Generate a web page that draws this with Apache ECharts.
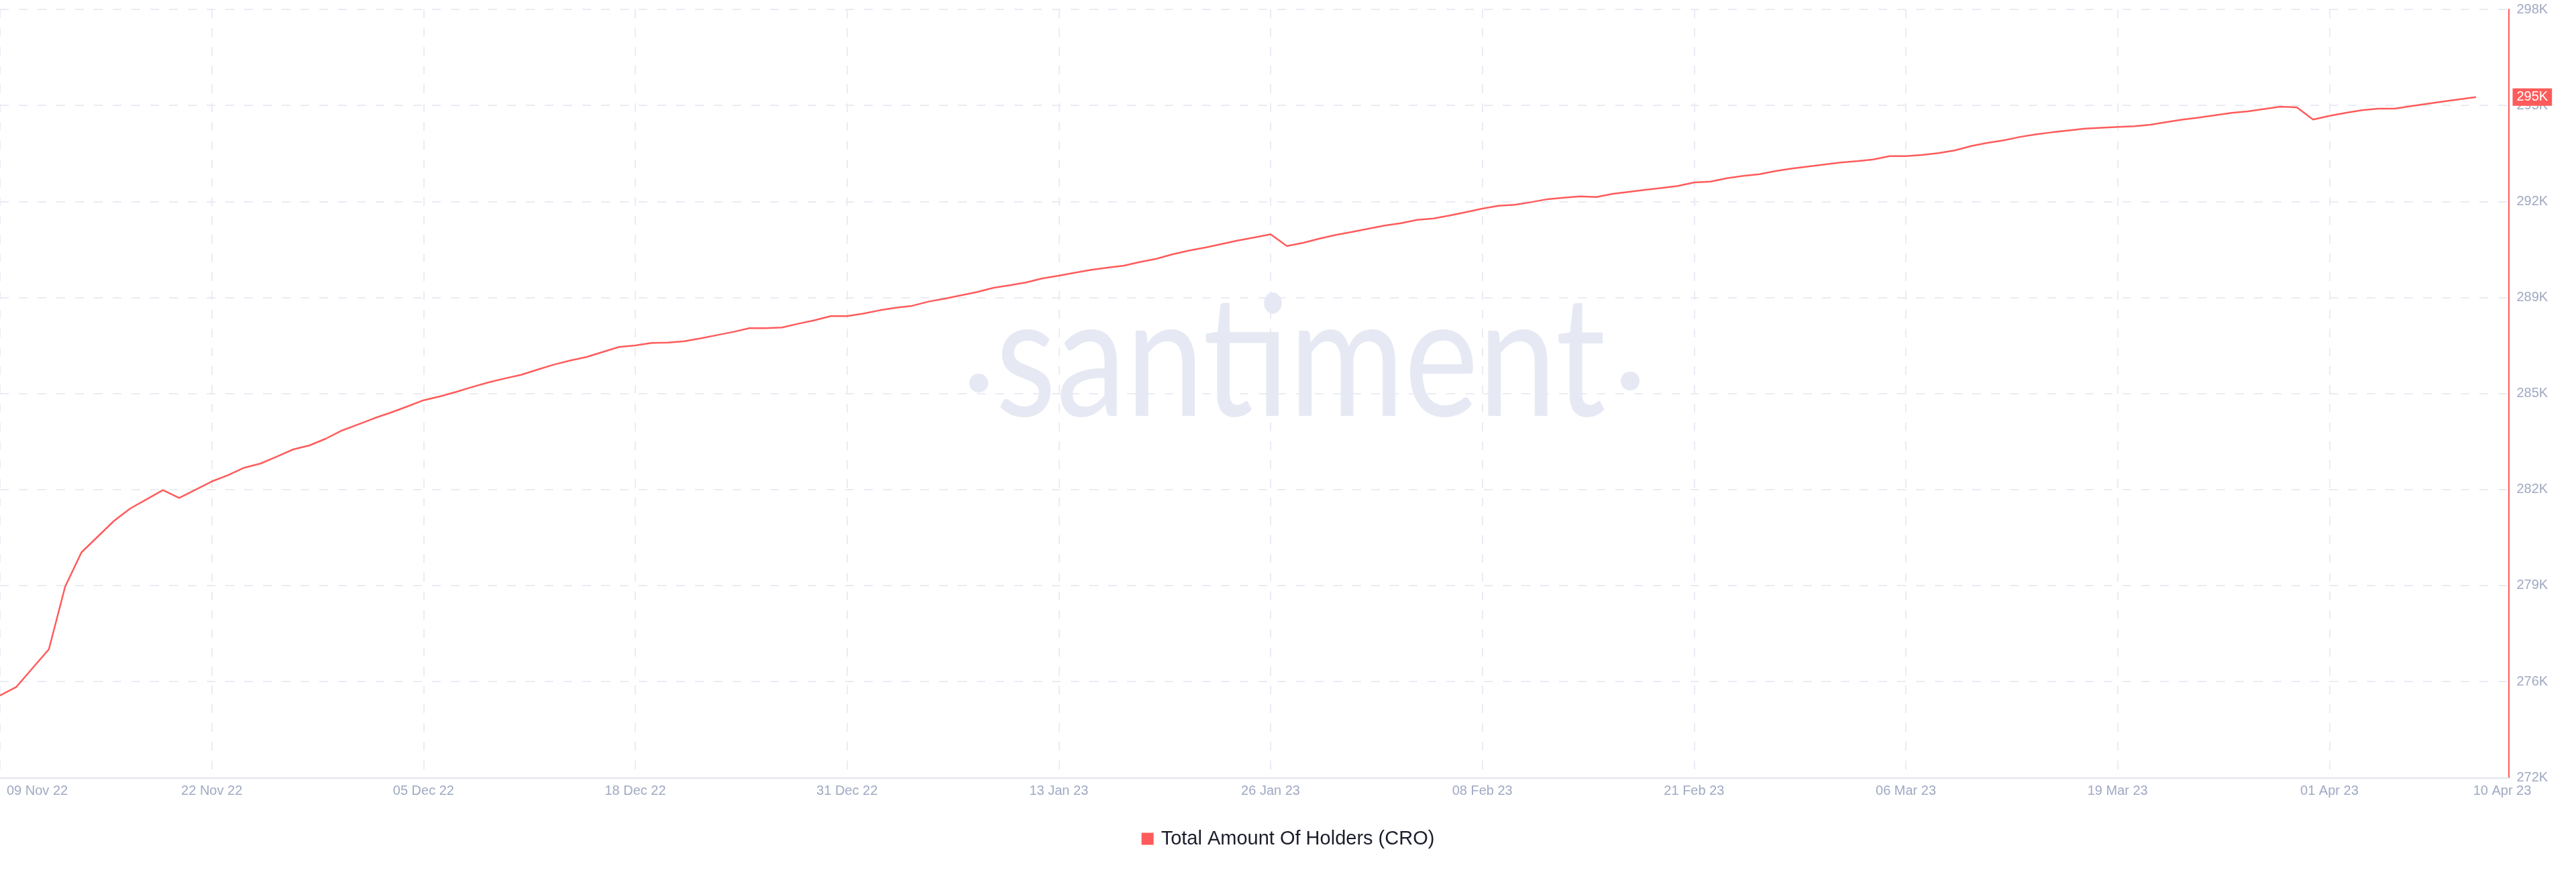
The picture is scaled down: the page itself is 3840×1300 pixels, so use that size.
<!DOCTYPE html>
<html>
<head>
<meta charset="utf-8">
<script src="https://cdn.jsdelivr.net/npm/echarts@6/dist/echarts.min.js"></script>
<style>
html,body{margin:0;padding:0;background:#fff;}
#chart{width:3840px;height:1300px;}
</style>
</head>
<body>
<div id="chart"></div>
<script>
// ---- data ----
const seriesName = 'Total Amount Of Holders (CRO)';
const startDay = [2022, 10, 9]; // 09 Nov 2022 (UTC, month 0-based)
const holders = [
  275126, 275417, 276057, 276693, 278815, 279973, 280507, 281040, 281460, 281771,
  282080, 281817, 282091, 282373, 282588, 282840, 282981, 283215, 283458, 283594,
  283821, 284100, 284305, 284518, 284706, 284911, 285122, 285251, 285403, 285571,
  285728, 285862, 285984, 286159, 286327, 286466, 286586, 286754, 286927, 286977,
  287063, 287074, 287117, 287215, 287326, 287433, 287560, 287560, 287583, 287712,
  287826, 287969, 287969, 288053, 288166, 288255, 288318, 288461, 288561, 288675,
  288788, 288927, 289013, 289110, 289247, 289338, 289440, 289537, 289610, 289678,
  289803, 289912, 290064, 290189, 290291, 290411, 290529, 290631, 290738, 290343,
  290450, 290593, 290715, 290820, 290927, 291033, 291115, 291229, 291274, 291374,
  291487, 291608, 291705, 291739, 291826, 291928, 291978, 292023, 292000, 292107,
  292175, 292243, 292305, 292373, 292493, 292523, 292636, 292713, 292772, 292879,
  292963, 293031, 293099, 293167, 293213, 293272, 293385, 293385, 293424, 293485,
  293576, 293726, 293832, 293916, 294034, 294121, 294193, 294255, 294316, 294343,
  294370, 294393, 294445, 294534, 294620, 294691, 294768, 294847, 294899, 294979,
  295058, 295036, 294620, 294747, 294847, 294938, 294990, 294990, 295074, 295156,
  295233, 295308, 295383
];
const xAxisEndDay = [2023, 3, 12];     // right edge of the time range
const xTickStepDays = 13;
const yMin = 272350, yMax = 298350, yStep = 3250;
const monthNames = ['Jan','Feb','Mar','Apr','May','Jun','Jul','Aug','Sep','Oct','Nov','Dec'];

// ---- build ----
const DAY = 86400000;
const t0 = Date.UTC(startDay[0], startDay[1], startDay[2]);
const tEnd = Date.UTC(xAxisEndDay[0], xAxisEndDay[1], xAxisEndDay[2]);
const dates = holders.map((_, i) => t0 + i * DAY);
const lineData = holders.map((v, i) => [dates[i], v]);
const lastT = dates[dates.length - 1];
const lastV = holders[holders.length - 1];

function fmtDate(t) {
  const d = new Date(t);
  const dd = String(d.getUTCDate()).padStart(2, '0');
  const yy = String(d.getUTCFullYear() % 100).padStart(2, '0');
  return dd + ' ' + monthNames[d.getUTCMonth()] + ' ' + yy;
}
const kFmt = v => Math.round(v / 1000) + 'K';

const RED = '#ff5b5b';
const LABEL = '#9fa9c3';
const GRID = '#e9ecf4';
const WM = '#e6e9f3';

const chart = echarts.init(document.getElementById('chart'), null, {renderer: 'canvas'});
chart.setOption({
  animation: false,
  backgroundColor: '#ffffff',
  grid: {left: 0, right: 100.5, top: 14, bottom: 140.7, containLabel: false, outerBoundsMode: 'none'},
  graphic: [
    {type: 'circle', z: 1, silent: true, shape: {cx: 1459, cy: 571, r: 14}, style: {fill: WM}},
    {type: 'circle', z: 1, silent: true, shape: {cx: 2430, cy: 568, r: 14}, style: {fill: WM}},
    {type: 'text', z: 1, silent: true, x: 1484, y: 664, scaleX: 0.835,
      style: {text: 'santiment', font: '250px Lato', fill: WM, align: 'left', verticalAlign: 'bottom'}}
  ],
  legend: {
    data: [seriesName],
    left: 'center', top: 1236, padding: 0,
    icon: 'rect', itemWidth: 18, itemHeight: 18,
    textStyle: {fontFamily: 'Liberation Sans', fontSize: 29, color: '#1b1d2c', padding: [0, 0, 0, 6]}
  },
  xAxis: {
    type: 'value',
    min: t0, max: tEnd, interval: xTickStepDays * DAY,
    axisLine: {show: true, lineStyle: {color: '#e1e5ef', width: 2}},
    axisTick: {show: false},
    splitLine: {show: true, lineStyle: {color: GRID, width: 2, type: [13, 15]}},
    axisLabel: {
      margin: 10,
      fontFamily: 'Liberation Sans', fontSize: 20, color: LABEL,
      alignMinLabel: 'left',
      showMinLabel: true, showMaxLabel: true,
      formatter: function (v) {
        if (Math.abs(v - t0) < 1000) return '{first|' + fmtDate(v) + '}';
        if (Math.abs(v - tEnd) < 1000) return '{last|' + fmtDate(lastT) + '}';
        return fmtDate(v);
      },
      rich: {
        first: {fontFamily: 'Liberation Sans', fontSize: 20, color: LABEL, padding: [0, 0, 0, 10]},
        last: {fontFamily: 'Liberation Sans', fontSize: 20, color: LABEL, padding: [0, 19, 0, 0]}
      }
    }
  },
  yAxis: {
    type: 'value', position: 'right',
    min: yMin, max: yMax, interval: yStep,
    axisLine: {show: true, lineStyle: {color: RED, width: 2}},
    axisTick: {show: false},
    splitLine: {show: true, lineStyle: {color: GRID, width: 2, type: [13, 15]}},
    axisLabel: {margin: 12, fontFamily: 'Liberation Sans', fontSize: 20, color: LABEL, formatter: kFmt}
  },
  series: [{
    name: seriesName, type: 'line', z: 3,
    data: lineData, showSymbol: false, symbol: 'none',
    itemStyle: {color: RED},
    lineStyle: {color: RED, width: 2.5},
    markLine: {
      silent: true, symbol: 'none', animation: false,
      lineStyle: {color: 'rgba(255,255,255,0)', width: 0, type: 'solid'},
      label: {
        show: true, position: 'end', distance: 6,
        formatter: () => kFmt(lastV),
        backgroundColor: RED, color: '#ffffff',
        fontFamily: 'Liberation Sans', fontSize: 20, padding: [3, 6, 3, 6]
      },
      emphasis: {disabled: true},
      data: [{yAxis: lastV}]
    }
  }]
});
</script>
</body>
</html>
